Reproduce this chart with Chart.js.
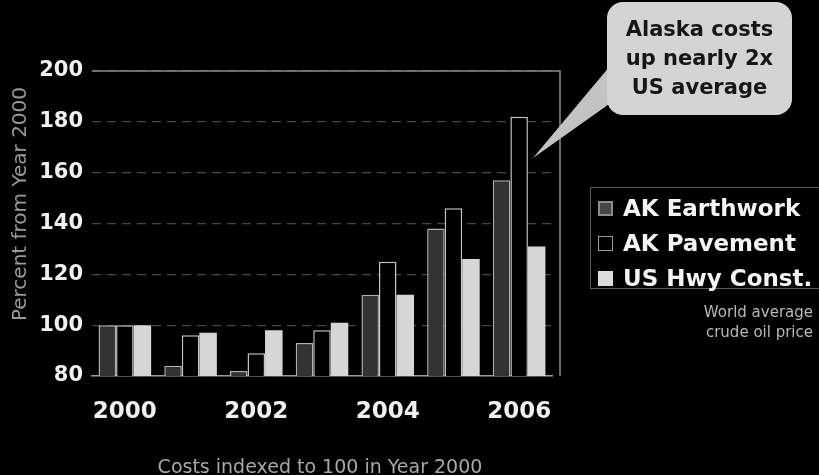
<!DOCTYPE html>
<html>
<head>
<meta charset="utf-8">
<script src="https://cdn.jsdelivr.net/npm/chart.js@4.4.0/dist/chart.umd.min.js"></script>
<style>
  body { margin: 0; background: #000; }
  #wrap { position: relative; width: 819px; height: 475px; overflow: hidden; background: #000; font-family: 'DejaVu Sans', sans-serif; }
  #chartBox { position: absolute; left: 0; top: 0; width: 819px; height: 475px; }
  #yTitle { position: absolute; left: 19px; top: 204px; transform: translate(-50%, -50%) rotate(-90deg); white-space: nowrap; color: #9a9a9a; font-size: 20px; }
  #caption { position: absolute; left: 320px; top: 466px; transform: translate(-50%, -50%); white-space: nowrap; color: #a8a8a8; font-size: 19px; }
  #legend { position: absolute; left: 590px; top: 187px; width: 229px; height: 102px; border: 1px solid #5a5a5a; border-right: none; box-sizing: border-box; }
  #legend .item { position: absolute; left: 7px; height: 30px; line-height: 30px; white-space: nowrap; color: #f4f4f4; font-weight: bold; font-size: 23px; }
  #legend .swatch { position: absolute; left: 0; top: 8px; width: 15px; height: 15px; box-sizing: border-box; }
  #legend .text { position: absolute; left: 25px; top: 0; }
  #oilNote { position: absolute; right: 6px; top: 302px; text-align: right; color: #b8b8b8; font-size: 15px; line-height: 20px; }
  #bubble { position: absolute; left: 0; top: 0; }
  #callout { position: absolute; left: 607px; top: 2px; width: 185px; height: 113px; display: flex; align-items: center; justify-content: center; text-align: center; color: #161616; font-weight: bold; font-size: 21px; line-height: 29px; }
</style>
</head>
<body>
<div id="wrap">
  <div id="chartBox"><canvas id="costChart"></canvas></div>
  <svg id="bubble" width="819" height="475">
    <polygon points="610,66 612,102 533,158" fill="#c2c2c2"/>
    <rect x="607" y="2" width="185" height="113" rx="16" ry="16" fill="#d4d4d4"/>
  </svg>
  <div id="callout">Alaska costs<br>up nearly 2x<br>US average</div>
  <div id="yTitle">Percent from Year 2000</div>
  <div id="caption">Costs indexed to 100 in Year 2000</div>
  <div id="legend"></div>
  <div id="oilNote">World average<br>crude oil price</div>
</div>
<script>
// Cost index values
const years = ['2000', '2001', '2002', '2003', '2004', '2005', '2006'];
const shownYears = ['2000', '2002', '2004', '2006'];
const akEarthwork = [100, 84, 82, 93, 112, 138, 157];
const akPavement = [100, 96, 89, 98, 125, 146, 182];
const usHwyConst = [100, 97, 98, 101, 112, 126, 131];
const yTicks = [80, 100, 120, 140, 160, 180, 200];

// Light frame on the top and right of the plot
const framePlugin = {
    id: 'frame',
    beforeDatasetsDraw(chart) {
        const { ctx, chartArea } = chart;
        ctx.save();
        ctx.strokeStyle = '#8a8a8a';
        ctx.lineWidth = 1.5;
        ctx.beginPath();
        ctx.moveTo(chartArea.left, chartArea.top);
        ctx.lineTo(chartArea.right + 8, chartArea.top);
        ctx.lineTo(chartArea.right + 8, chartArea.bottom);
        ctx.stroke();
        ctx.restore();
    }
};

const ctx = document.getElementById('costChart').getContext('2d');
const costChart = new Chart(ctx, {
    type: 'bar',
    data: {
        labels: years,
        datasets: [{
            label: 'AK Earthwork',
            data: akEarthwork,
            backgroundColor: '#333333',
            borderColor: '#b0b0b0',
            borderWidth: 1.5,
            swatchFill: '#474747',
            swatchBorder: '2px solid #8c8c8c'
        }, {
            label: 'AK Pavement',
            data: akPavement,
            backgroundColor: '#000000',
            borderColor: '#c4c4c4',
            borderWidth: 1.5,
            swatchFill: '#000000',
            swatchBorder: '1px solid #9a9a9a'
        }, {
            label: 'US Hwy Const.',
            data: usHwyConst,
            backgroundColor: '#d6d6d6',
            borderColor: '#d6d6d6',
            borderWidth: 0,
            swatchFill: '#dcdcdc',
            swatchBorder: 'none'
        }]
    },
    options: {
        responsive: true,
        maintainAspectRatio: false,
        animation: false,
        layout: {
            padding: { top: 71, right: 267, bottom: 0, left: 0 }
        },
        datasets: {
            bar: {
                categoryPercentage: 0.8,
                barPercentage: 1.0
            }
        },
        plugins: {
            legend: { display: false },
            tooltip: { enabled: false }
        },
        scales: {
            y: {
                min: 80,
                max: 200,
                afterBuildTicks: function(scale) {
                    scale.ticks = yTicks.map(v => ({ value: v }));
                },
                afterFit: function(scale) {
                    scale.width = 92;
                },
                grid: {
                    color: 'rgba(255, 255, 255, 0.28)',
                    lineWidth: 1.2,
                    drawTicks: false
                },
                border: {
                    display: false,
                    dash: [9, 6]
                },
                ticks: {
                    color: '#f0f0f0',
                    padding: 9,
                    font: { family: "'DejaVu Sans', sans-serif", size: 21, weight: 'bold' }
                }
            },
            x: {
                afterFit: function(scale) {
                    scale.height = 99;
                },
                grid: { display: false },
                border: {
                    display: true,
                    color: '#9a9a9a',
                    width: 1.5
                },
                ticks: {
                    autoSkip: false,
                    maxRotation: 0,
                    color: '#f0f0f0',
                    padding: 14,
                    font: { family: "'DejaVu Sans', sans-serif", size: 23, weight: 'bold' },
                    callback: function(value, index) {
                        return shownYears.includes(years[index]) ? years[index] : '';
                    }
                }
            }
        }
    },
    plugins: [framePlugin]
});

// Legend built from the chart's datasets
const legendEl = document.getElementById('legend');
costChart.data.datasets.forEach((ds, i) => {
    const item = document.createElement('div');
    item.className = 'item';
    item.style.top = (5 + i * 35) + 'px';
    const swatch = document.createElement('span');
    swatch.className = 'swatch';
    swatch.style.background = ds.swatchFill;
    swatch.style.border = ds.swatchBorder;
    const text = document.createElement('span');
    text.className = 'text';
    text.textContent = ds.label;
    item.appendChild(swatch);
    item.appendChild(text);
    legendEl.appendChild(item);
});
</script>
</body>
</html>
